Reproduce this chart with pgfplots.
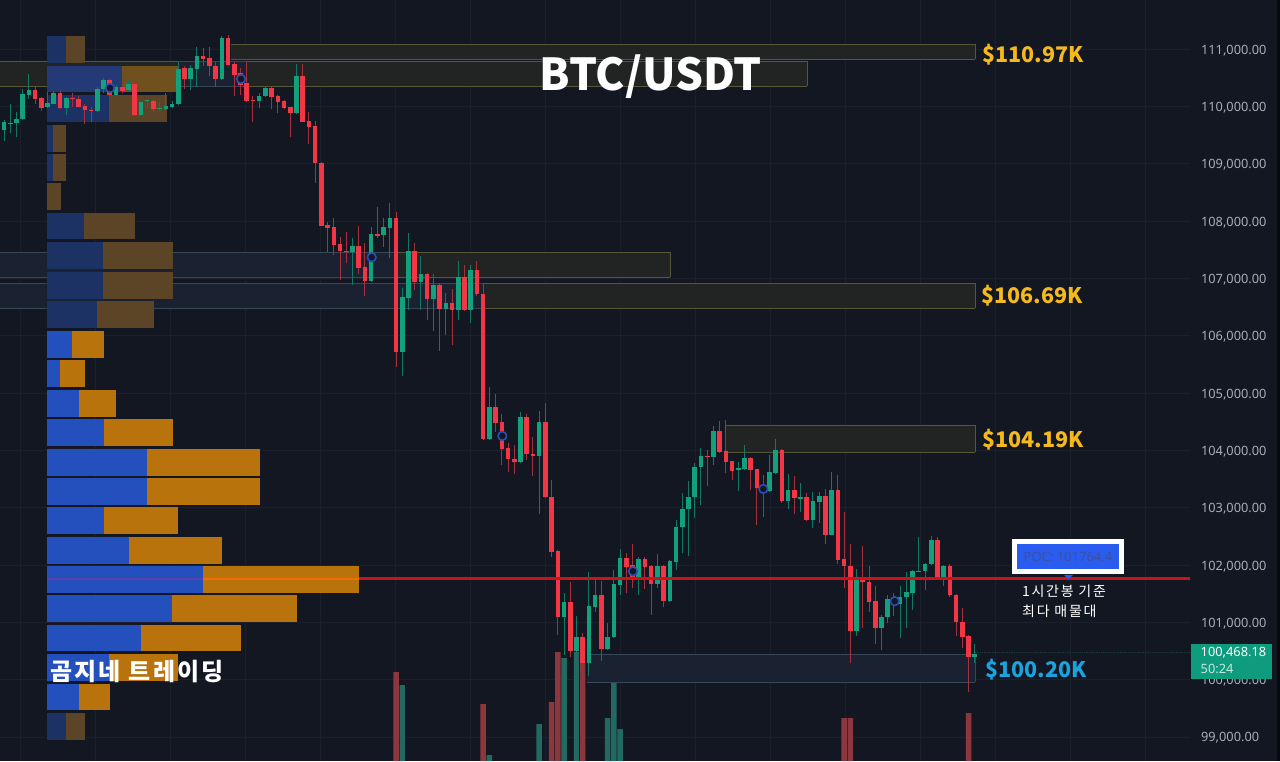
\documentclass[border=0pt]{standalone}
\usepackage{pgfplots}
\usepackage{pgfplotstable}
\usepackage{fontspec}
\pgfplotsset{compat=1.18}
\setmainfont{Noto Sans}
\newfontfamily\kr{Noto Sans CJK KR}
\newfontfamily\krw[LetterSpace=9.5]{Noto Sans CJK KR}
\newfontfamily\krs[LetterSpace=12]{Noto Sans CJK KR}
\definecolor{bg}{RGB}{19,23,34}
\definecolor{gridc}{RGB}{28,32,44}
\definecolor{upb}{RGB}{18,160,125}
\definecolor{dnb}{RGB}{242,54,69}
\definecolor{upw}{RGB}{18,120,100}
\definecolor{dnw}{RGB}{165,48,62}
\definecolor{volg}{RGB}{34,105,97}
\definecolor{volr}{RGB}{140,54,62}
\definecolor{pblue}{RGB}{36,80,190}
\definecolor{porange}{RGB}{185,115,12}
\definecolor{dblue}{RGB}{28,50,100}
\definecolor{dorange}{RGB}{92,68,38}
\definecolor{mblue}{RGB}{36,58,118}
\definecolor{morange}{RGB}{112,80,28}
\definecolor{zoneo}{RGB}{34,36,36}
\definecolor{zonel}{RGB}{86,86,56}
\definecolor{zoneb}{RGB}{26,34,50}
\definecolor{zonebl}{RGB}{54,72,88}
\definecolor{gold}{RGB}{245,185,30}
\definecolor{skyb}{RGB}{27,163,224}
\definecolor{poc}{RGB}{200,20,26}
\definecolor{pocp}{RGB}{92,62,172}
\definecolor{poco}{RGB}{240,110,0}
\definecolor{ringb}{RGB}{42,78,180}
\definecolor{tickc}{RGB}{170,174,184}
\definecolor{pocbox}{RGB}{42,92,240}
\definecolor{poctxt}{RGB}{62,80,160}
\definecolor{lastbox}{RGB}{15,155,125}
% candle tables: index, body top, body bottom, high, low
\pgfplotstableread{
i t b h l
0 109721 109587 109762 109401
1 109715 109698 110041 109529
2 109779 109709 109907 109459
3 110215 109773 110296 109762
4 110285 110203 110564 110122
7 110058 109982 110256 109965
8 110238 110046 110273 110040
10 110139 109971 110168 109849
15 110302 109913 110343 109901
16 110459 110296 110488 110227
18 110343 110197 110372 110186
20 110389 110285 110459 110256
22 110081 109849 110099 109837
23 110104 110093 110128 109965
25 109977 109965 110081 109918
26 110000 109959 110227 109936
27 110046 109988 110099 109965
28 110651 110040 110779 110029
30 110668 110476 110721 110285
31 110883 110651 111040 110343
35 111186 110471 111226 110459
41 110186 110093 110227 109965
42 110320 110174 110331 110157
47 110529 109884 110732 109866
56 107571 107454 107698 106885
59 107774 106960 107902 106943
61 107890 107751 108047 107553
62 108053 107885 108309 107350
64 106670 105716 106827 105298
65 107478 106652 107786 106449
67 107076 106937 107390 106449
69 106885 106635 107076 106088
71 106565 106466 106739 106013
73 107024 106449 107309 106274
75 107152 106455 107233 106216
78 104751 104193 105111 104181
83 104576 103792 104675 103774
86 104489 103908 104693 102891
90 101350 101088 101507 100432
92 100740 100507 101112 100460
94 101286 100286 101885 100065
95 101478 101274 101739 101187
97 100740 100536 100995 100519
98 101664 100740 101914 100722
99 102117 101652 102274 101478
102 102106 101798 102135 101478
105 101984 101670 102193 101594
107 102065 101379 102088 101362
108 102664 102059 102786 101914
109 102978 102658 103251 102205
110 103187 102972 103472 102158
111 103716 103181 103774 102815
112 103902 103705 104036 103048
114 104338 103891 104425 103745
118 103687 103652 103803 103298
119 103873 103675 104094 103658
123 103623 103298 103920 103280
124 104013 103612 104193 103588
126 103303 103123 103588 102972
128 103187 103158 103425 102931
130 103112 102786 103280 102641
131 103210 103100 103280 102740
133 103315 102530 103629 102525
137 101798 100856 101926 100763
141 101100 100897 101129 100519
142 101402 101089 101478 100984
144 101449 101321 101635 100722
145 101525 101443 101885 100897
146 101897 101519 101914 101217
147 101902 101885 102495 101885
148 102013 101897 102030 101565
149 102437 102013 102507 102001
151 101990 101798 102001 101635
156 100455 100391 100624 100286
}\upcandles
\pgfplotstableread{
i t b h l
5 110285 110128 110354 110040
6 110139 109977 110168 109924
9 110238 109971 110267 109959
11 110151 110139 110226 109982
12 110128 109988 110180 109982
13 110006 109930 110041 109692
14 109936 109918 109982 109732
17 110459 110197 110471 110180
19 110343 110261 110372 110227
21 110389 109849 110418 109831
24 110093 109953 110122 109907
29 110662 110476 110703 110296
32 110883 110831 111011 110703
33 110837 110703 111029 110529
34 110703 110471 110779 110331
36 111186 110721 111244 110703
37 110732 110546 110779 110180
38 110575 110372 110662 110197
39 110413 110093 110779 110081
40 110116 110099 110180 109721
43 110320 110157 110331 109948
44 110174 110070 110197 109878
45 110087 109977 110110 109948
46 109982 109884 109994 109471
48 110529 109732 110738 109721
49 109744 109645 109895 109343
50 109657 109006 109750 108657
51 109012 107919 109030 107905
52 107925 107885 107989 107466
53 107896 107582 108047 107408
54 107594 107478 107716 106972
55 107483 107454 107815 107262
57 107571 107187 107914 107076
58 107204 106960 107611 106693
60 107780 107745 108251 107710
63 108053 105716 108163 105460
66 107478 106937 107611 106797
68 107076 106635 107100 106274
70 106885 106466 106914 105739
72 106565 106449 106809 105838
74 107024 106455 107233 106437
76 107152 106722 107303 106693
77 106734 104193 106914 104181
79 104751 104472 104983 104326
80 104489 104024 104634 103745
81 104036 103844 104135 103629
82 103844 103792 104094 103588
84 104576 103931 104634 103832
85 103937 103908 104228 103553
87 104489 103181 104832 103164
88 103181 102234 103483 102146
89 102245 101088 102263 100780
91 101350 100507 101710 100402
93 100740 100286 100809 100275
96 101478 100536 101728 100333
100 102117 101972 102216 101507
101 102001 101798 102367 101594
103 102106 101972 102146 101577
104 101984 101670 102001 101129
106 101984 101379 101995 101263
113 103908 103879 104007 103385
115 104338 103972 104518 103949
116 103989 103803 104530 103612
117 103815 103646 103821 103484
120 103873 103658 103891 103309
121 103670 103338 103675 102699
122 103396 103263 103571 102833
125 104013 103112 104018 103088
127 103303 103164 103553 102891
129 103187 102786 103251 102774
132 103210 102530 103321 102368
134 103315 102089 103571 102019
135 102106 101990 102930 101594
136 101990 100856 102367 100286
138 101786 101699 102333 100897
139 101705 101362 101984 101187
140 101373 100897 101635 100624
143 101420 101304 101519 101112
150 102437 101798 102495 101786
152 101990 101472 102013 101437
153 101484 101001 101495 100763
154 101001 100751 101245 100548
155 100757 100391 100780 99792
}\downcandles
% volume profile: row centre price, buy length, sell length
\pgfplotstableread{
y b o
110995 19 19
109966 62 58
109443 6 13
108937 6 13
108426 0 14
107913 37 51
107402 56 70
106879 56 70
106373 50 57
99188 19 19
}\profdim
\pgfplotstableread{
y b o
110477 75 56
}\profmid
\pgfplotstableread{
y b o
105850 25 32
105344 13 25
104821 32 37
104315 57 69
103792 100 113
103286 100 113
102781 57 74
102257 82 93
101752 156 156
101241 125 125
100723 94 100
100211 62 69
99699 31.5 31.5
}\profbright
\pgfplotstableread{
i v
63 89
77 57
88 59
89 109
93 98
135 43
136 43
155 48
}\volred
\pgfplotstableread{
i v
64 76
78 6
86 37
90 103
92 109
97 43
98 81
99 32
}\volgreen
\pgfplotsset{
  base/.style={scale only axis, width=1190pt, height=761pt, xmin=0, xmax=1190},
  wick/.style={draw=none, mark=none, forget plot,
    error bars/.cd, y dir=plus, y explicit, error mark=none,
    error bar style={line width=1pt, color=#1}},
  body/.style={draw=none, mark=none, forget plot,
    error bars/.cd, y dir=plus, y explicit, error mark=none,
    error bar style={line width=4.6pt, color=#1}},
  prof/.style={draw=none, mark=none, forget plot,
    error bars/.cd, x dir=plus, x explicit, error mark=none,
    error bar style={line width=26.6pt, color=#1}},
}
% filled zone with its top and bottom rules: x1 x2 ytop ybottom fill line
\newcommand\zoneplot[6]{%
  \addplot[fill=#5, draw=none, forget plot] coordinates {(#1,#3)(#2,#3)(#2,#4)(#1,#4)} --cycle;
  \addplot[#6, line width=0.8pt, forget plot] coordinates {(#1,#3)(#2,#3)};
  \addplot[#6, line width=0.8pt, forget plot] coordinates {(#1,#4)(#2,#4)};}
\newcommand\zoneend[4]{\addplot[#4, line width=0.8pt, forget plot] coordinates {(#1,#2)(#1,#3)};}
\begin{document}
\begin{tikzpicture}
\path[use as bounding box] (0,0) rectangle (1280pt,761pt);
\fill[bg] (0,0) rectangle (1280pt,761pt);
\fill[black!60!bg] (1277pt,0) rectangle (1280pt,761pt);
% grid and price scale
\begin{axis}[base, ymin=98581, ymax=111855,
  axis line style={draw=none}, tick style={draw=none},
  xtick={20,95,170,245,320,395,470,545,620,695,770,845,920,995,1070,1145},
  xticklabels={},
  ytick={99000,100000,...,111000},
  scaled y ticks=false,
  grid=major, grid style={gridc, line width=0.7pt},
  yticklabel pos=right,
  yticklabel style={anchor=west, xshift=7.5pt, yshift=-1.2pt, text=tickc, font=\fontsize{12.8}{14}\selectfont},
  /pgf/number format/fixed,
  /pgf/number format/fixed zerofill,
  /pgf/number format/precision=2,
  /pgf/number format/1000 sep={,},
  /pgf/number format/assume math mode=true]
\addplot[draw=none, forget plot] coordinates {(0,105000)};
\end{axis}
% volume
\begin{axis}[base, hide axis, ymin=0, ymax=761]
\addplot[ybar, bar width=5.4pt, bar shift=0pt, fill=volr, draw=none, forget plot] table[x expr=4+6.223*\thisrow{i}, y=v] {\volred};
\addplot[ybar, bar width=5.4pt, bar shift=0pt, fill=volg, draw=none, forget plot] table[x expr=4+6.223*\thisrow{i}, y=v] {\volgreen};
\end{axis}
% zones, profile, candles
\begin{axis}[base, hide axis, ymin=98581, ymax=111855, clip=true]
\zoneplot{231}{975}{111087}{110826}{zoneo}{zonel}
\zoneend{975}{111087}{110826}{zonel}
\zoneplot{-5}{178}{110791}{110355}{zoneo}{zonel}
\zoneplot{178}{247}{110791}{110355}{zoneb}{zonebl}
\zoneplot{247}{807}{110791}{110355}{zoneo}{zonel}
\zoneend{807}{110791}{110355}{zonel}
\zoneplot{-5}{395}{107455}{107018}{zoneb}{zonebl}
\zoneplot{395}{670}{107455}{107018}{zoneo}{zonel}
\zoneend{670}{107455}{107018}{zonel}
\zoneplot{-5}{483}{106914}{106478}{zoneb}{zonebl}
\zoneplot{483}{975}{106914}{106478}{zoneo}{zonel}
\zoneend{975}{106914}{106478}{zonel}
\zoneplot{725}{975}{104442}{103971}{zoneo}{zonel}
\zoneend{975}{104442}{103971}{zonel}
\zoneplot{587}{975}{100444}{99955}{zoneb}{zonebl}
\zoneend{975}{100444}{99955}{zonebl}
% profile
\addplot[prof=dblue] table[x expr=47, y=y, x error expr=\thisrow{b}] {\profdim};
\addplot[prof=dorange] table[x expr=47+\thisrow{b}, y=y, x error expr=\thisrow{o}] {\profdim};
\addplot[prof=mblue] table[x expr=47, y=y, x error expr=\thisrow{b}] {\profmid};
\addplot[prof=morange] table[x expr=47+\thisrow{b}, y=y, x error expr=\thisrow{o}] {\profmid};
\addplot[prof=pblue] table[x expr=47, y=y, x error expr=\thisrow{b}] {\profbright};
\addplot[prof=porange] table[x expr=47+\thisrow{b}, y=y, x error expr=\thisrow{o}] {\profbright};
% last price line
\addplot[upw!35!bg, densely dotted, line width=0.7pt, forget plot] coordinates {(975,100468) (1190,100468)};
% candles
\addplot[wick=upw] table[x expr=4+6.223*\thisrow{i}, y=l, y error expr=\thisrow{h}-\thisrow{l}] {\upcandles};
\addplot[wick=dnw] table[x expr=4+6.223*\thisrow{i}, y=l, y error expr=\thisrow{h}-\thisrow{l}] {\downcandles};
\addplot[body=upb] table[x expr=4+6.223*\thisrow{i}, y=b, y error expr=\thisrow{t}-\thisrow{b}] {\upcandles};
\addplot[body=dnb] table[x expr=4+6.223*\thisrow{i}, y=b, y error expr=\thisrow{t}-\thisrow{b}] {\downcandles};
% POC
\addplot[pocp, line width=2pt, forget plot] coordinates {(47,101764) (203,101764)};
\addplot[poco, line width=2pt, forget plot] coordinates {(203,101764) (359,101764)};
\addplot[poc, line width=2.4pt, forget plot] coordinates {(359,101764) (1190,101764)};
% signal rings
\addplot[only marks, mark=*, mark size=4.3pt, mark options={fill=bg, draw=ringb, line width=1.6pt}, forget plot]
 coordinates {(110,110320)(241,110477)(371.7,107367)(502.3,104251)(633,101891)(763.3,103326)(894.7,101368)};
\end{axis}
% annotations, in picture pixels from the top left
\begin{scope}[shift={(0,761pt)}, x=1pt, y=-1pt]
\node[anchor=center, text=white, font=\kr\bfseries\fontsize{44}{48}\selectfont] at (651,77) {BTC/USDT};
\node[anchor=west, inner sep=0, text=gold, font=\kr\bfseries\fontsize{21.5}{26}\selectfont] at (982,54.5) {\$110.97K};
\node[anchor=west, inner sep=0, text=gold, font=\kr\bfseries\fontsize{21.5}{26}\selectfont] at (981,295.5) {\$106.69K};
\node[anchor=west, inner sep=0, text=gold, font=\kr\bfseries\fontsize{21.5}{26}\selectfont] at (982,439.5) {\$104.19K};
\node[anchor=west, inner sep=0, text=skyb, font=\kr\bfseries\fontsize{21.5}{26}\selectfont] at (985,669.5) {\$100.20K};
\node[anchor=west, inner sep=0, text=white, font=\krw\bfseries\fontsize{24}{26}\selectfont] at (50,672) {곰지네 트레이딩};
\fill[white] (1012,539) rectangle (1124,574.5);
\fill[pocbox] (1017,544) rectangle (1119,569.5);
\fill[pocbox] (1064,575) -- (1073,575) -- (1068.5,579) -- cycle;
\node[text=poctxt, font=\fontsize{13}{15}\selectfont] at (1068,557) {POC: 101764.4};
\node[anchor=west, inner sep=0, text=white, font=\krs\fontsize{14}{16}\selectfont] at (1022,591) {1시간봉 기준};
\node[anchor=west, inner sep=0, text=white, font=\krs\fontsize{14}{16}\selectfont] at (1022,611) {최다 매물대};
\fill[lastbox] (1190.5,644) rectangle (1272,679);
\node[anchor=west, inner sep=0, text=white, font=\fontsize{12.8}{14}\selectfont] at (1200.5,653) {100,468.18};
\node[anchor=west, inner sep=0, text=white!75!upb, font=\fontsize{12.8}{14}\selectfont] at (1200.5,669) {50:24};
\end{scope}
\end{tikzpicture}
\end{document}
